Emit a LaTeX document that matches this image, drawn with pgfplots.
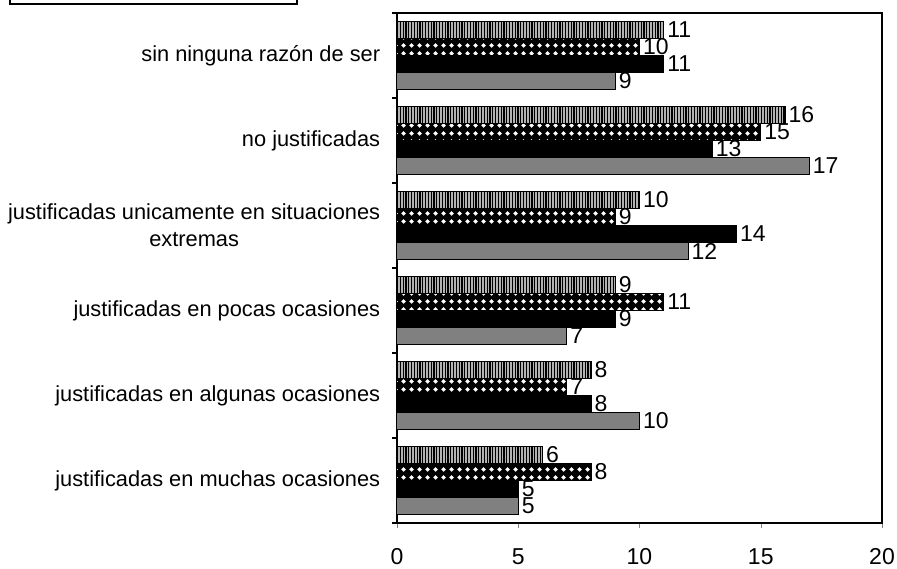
\documentclass[border=0pt]{standalone}
\usepackage{fontspec}
\setmainfont{Liberation Sans}
\usepackage{pgfplots}
\pgfplotsset{compat=1.18}
\usetikzlibrary{patterns,patterns.meta}

% white diamonds on the black bars
\tikzdeclarepattern{
  name=diamondrow, type=uncolored,
  bounding box={(0,0) and (4pt,4pt)},
  tile size={(4pt,4pt)},
  code={\fill (2pt,0.7pt) -- (3.3pt,2pt) -- (2pt,3.3pt) -- (0.7pt,2pt) -- cycle;}
}

\begin{document}
\begin{tikzpicture}
\begin{axis}[
    at={(0,0)}, anchor=south west,
    scale only axis, width=242.5pt, height=255pt,
    xbar, bar width=0.2,
    xmin=0, xmax=20, xtick={0,5,10,15,20},
    ymin=-0.5, ymax=5.5, y dir=reverse,
    ytick={0,1,2,3,4,5},
    yticklabels={sin ninguna razón de ser, no justificadas,
      {justificadas unicamente en situaciones\\extremas},
      justificadas en pocas ocasiones, justificadas en algunas ocasiones,
      justificadas en muchas ocasiones},
    xtick pos=bottom, ytick pos=left, tick align=outside,
    major tick length=2.5pt,
    ytick style={draw=none},
    extra y ticks={-0.5,0.5,1.5,2.5,3.5,4.5,5.5},
    extra y tick labels={},
    extra y tick style={ytick style={draw=black, line width=0.6pt}},
    axis line style={line width=0.7pt},
    /pgf/number format/assume math mode=true,
    yticklabel style={align=center, xshift=-2.4pt, font=\fontsize{10.9}{13.5}\selectfont},
    xticklabel style={anchor=north, text height=8.5pt, text depth=0pt, yshift=-6pt,
      font=\fontsize{11.5}{13.5}\selectfont},
    nodes near coords,
    every node near coord/.append style={anchor=west, inner xsep=1.5pt,
      font=\fontsize{11.5}{13.5}\selectfont},
    clip=false,
  ]
  % series 1: vertical stripes
  \addplot[draw=black, line width=0.5pt, bar shift=-0.3, fill=black!30,
    postaction={pattern={Lines[angle=90, distance=1.4pt, line width=0.6pt]}, pattern color=black}]
    coordinates {(11,0) (16,1) (10,2) (9,3) (8,4) (6,5)};
  % series 2: black with white diamonds
  \addplot[draw=black, line width=0.5pt, bar shift=-0.1, fill=black,
    postaction={pattern=diamondrow, pattern color=white}]
    coordinates {(10,0) (15,1) (9,2) (11,3) (7,4) (8,5)};
  % series 3: solid black
  \addplot[draw=black, line width=0.5pt, bar shift=0.1, fill=black]
    coordinates {(11,0) (13,1) (14,2) (9,3) (8,4) (5,5)};
  % series 4: gray
  \addplot[draw=black, line width=0.5pt, bar shift=0.3, fill=black!50]
    coordinates {(9,0) (17,1) (12,2) (7,3) (10,4) (5,5)};
\end{axis}
% remains of a cut-off legend box
\draw[line width=0.7pt] (-193.5pt,261.5pt) -- (-193.5pt,259.5pt) -- (-50pt,259.5pt) -- (-50pt,261.5pt);
\pgfresetboundingbox
\path[use as bounding box] (-198.5pt,-22.5pt) rectangle (250pt,261.5pt);
\end{tikzpicture}
\end{document}
